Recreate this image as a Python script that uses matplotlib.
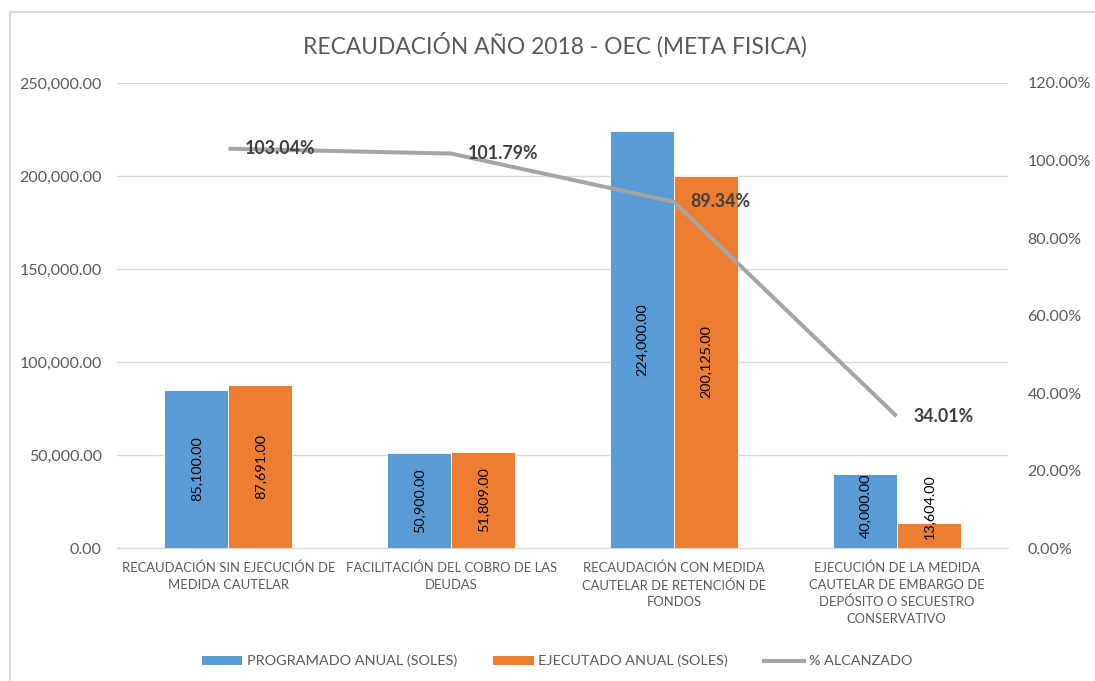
import matplotlib.pyplot as plt
import matplotlib.ticker as mticker
from matplotlib.patches import Patch
from matplotlib.lines import Line2D
import numpy as np

plt.rcParams['font.family'] = ['Lato', 'DejaVu Sans']

categories = [
    "RECAUDACIÓN SIN EJECUCIÓN DE\nMEDIDA CAUTELAR",
    "FACILITACIÓN DEL COBRO DE LAS\nDEUDAS",
    "RECAUDACIÓN CON MEDIDA\nCAUTELAR DE RETENCIÓN DE\nFONDOS",
    "EJECUCIÓN DE LA MEDIDA\nCAUTELAR DE EMBARGO DE\nDEPÓSITO O SECUESTRO\nCONSERVATIVO",
]
programado = [85100.00, 50900.00, 224000.00, 40000.00]
ejecutado = [87691.00, 51809.00, 200125.00, 13604.00]
alcanzado = [1.0304, 1.0179, 0.8934, 0.3401]

title = "RECAUDACIÓN AÑO 2018 - OEC (META FISICA)"
grey_txt = "#595959"
blue = "#5B9BD5"
orange = "#ED7D31"
line_grey = "#A5A5A5"

fig = plt.figure(figsize=(10.95, 6.81), dpi=100)
ax = fig.add_axes([117 / 1095, 1 - 548 / 681, 891 / 1095, 465 / 681])
ax2 = ax.twinx()

x = np.arange(len(categories))
w = 0.287
b1 = ax.bar(x - w / 2, programado, w, color=blue, edgecolor="white", linewidth=0.6, zorder=2)
b2 = ax.bar(x + w / 2, ejecutado, w, color=orange, edgecolor="white", linewidth=0.6, zorder=2)

# value labels inside bars, rotated
for bars, vals in ((b1, programado), (b2, ejecutado)):
    for rect, v in zip(bars, vals):
        ypos = max(v / 2, 22500)
        ax.text(rect.get_x() + rect.get_width() / 2, ypos, f"{v:,.2f}",
                rotation=90, ha="center", va="center", fontsize=10.4, color="black", zorder=3)

ax.set_xlim(-0.5, len(categories) - 0.5)
ax.set_ylim(0, 250000)
ax.set_yticks(np.arange(0, 250001, 50000))
ax.yaxis.set_major_formatter(mticker.FuncFormatter(lambda v, p: f"{v:,.2f}"))
ax.set_xticks(x)
ax.set_xticklabels(categories, fontsize=9.4, color=grey_txt, linespacing=1.45)
ax.tick_params(axis="x", length=0, pad=10)
ax.tick_params(axis="y", length=0, labelsize=11.5, labelcolor=grey_txt, pad=11)
ax.grid(axis="y", color="#D9D9D9", linewidth=1, zorder=0)
ax.set_axisbelow(True)
for s in ax.spines.values():
    s.set_visible(False)
ax.spines["bottom"].set_visible(True)
ax.spines["bottom"].set_color("#D9D9D9")

ax2.plot(x, alcanzado, color=line_grey, linewidth=2.9, zorder=2, solid_capstyle="butt")
for xi, p in zip(x, alcanzado):
    ax2.annotate(f"{p * 100:.2f}%", (xi, p), xytext=(12, 0), textcoords="offset points",
                 ha="left", va="center", fontsize=12.8, fontweight="bold", color="#404040",
                 zorder=5)
ax2.set_ylim(0, 1.2)
ax2.set_yticks(np.arange(0, 1.21, 0.2))
ax2.yaxis.set_major_formatter(mticker.FuncFormatter(lambda v, p: f"{v * 100:.2f}%"))
ax2.tick_params(axis="y", length=0, labelsize=11.5, labelcolor=grey_txt, pad=14)
for s in ax2.spines.values():
    s.set_visible(False)

fig.text(555 / 1095, 1 - 45 / 681, title, ha="center", va="center", fontsize=16.4, color=grey_txt)

handles = [Patch(facecolor=blue), Patch(facecolor=orange),
           Line2D([0], [0], color=line_grey, linewidth=2.9)]
labels = ["PROGRAMADO ANUAL (SOLES)", "EJECUTADO ANUAL (SOLES)", "% ALCANZADO"]
fig.legend(handles, labels, loc="center", bbox_to_anchor=(557 / 1095, 1 - 661 / 681), ncol=3,
           frameon=False, fontsize=10.4, labelcolor=grey_txt, handlelength=2.8, handleheight=0.55,
           handletextpad=0.3, columnspacing=2.5)

# chart border (top and left visible)
fig.add_artist(Line2D([10 / 1095, 1], [1 - 12 / 681, 1 - 12 / 681], color="#D9D9D9", linewidth=1.5))
fig.add_artist(Line2D([10 / 1095, 10 / 1095], [0, 1 - 12 / 681], color="#D9D9D9", linewidth=1.5))

fig.savefig("out.png", dpi=100)
